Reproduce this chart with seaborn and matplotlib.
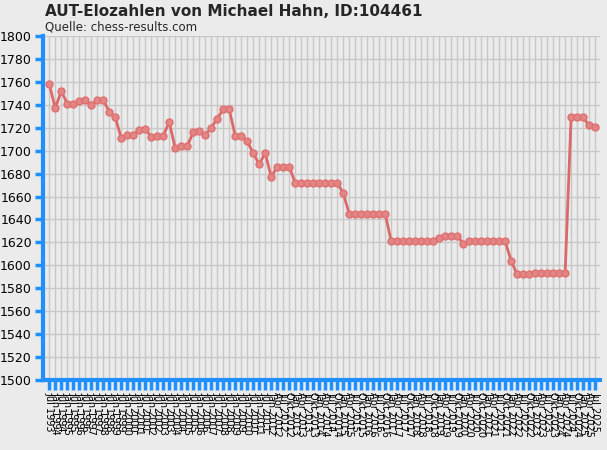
import matplotlib
matplotlib.use("Agg")
import matplotlib.pyplot as plt
import seaborn as sns
import pandas as pd

title = "AUT-Elozahlen von Michael Hahn, ID:104461"
subtitle = "Quelle: chess-results.com"

dates = [
    "Jul 1993", "Jan 1994", "Jul 1994", "Jan 1995", "Jul 1995", "Jan 1996", "Jul 1996",
    "Jan 1997", "Jul 1997", "Jan 1998", "Jul 1998", "Jan 1999", "Jul 1999", "Jan 2000",
    "Jul 2000", "Jan 2001", "Jul 2001", "Jan 2002", "Jul 2002", "Jan 2003", "Jul 2003",
    "Jan 2004", "Jul 2004", "Jan 2005", "Jul 2005", "Jan 2006", "Jul 2006", "Jan 2007",
    "Jul 2007", "Jan 2008", "Jul 2008", "Jan 2009", "Jul 2009", "Jan 2010", "Jul 2010",
    "Jan 2011", "Jul 2011",
    "Jan 2012", "Apr 2012", "Jul 2012", "Okt 2012",
    "Jan 2013", "Apr 2013", "Jul 2013", "Okt 2013",
    "Jan 2014", "Apr 2014", "Jul 2014", "Okt 2014",
    "Jan 2015", "Apr 2015", "Jul 2015", "Okt 2015",
    "Jan 2016", "Apr 2016", "Jul 2016", "Okt 2016",
    "Jan 2017", "Apr 2017", "Jul 2017", "Okt 2017",
    "Jan 2018", "Apr 2018", "Jul 2018", "Okt 2018",
    "Jan 2019", "Apr 2019", "Jul 2019", "Okt 2019",
    "Jan 2020", "Apr 2020", "Jul 2020", "Okt 2020",
    "Jan 2021", "Apr 2021", "Jul 2021", "Okt 2021",
    "Jan 2022", "Apr 2022", "Jul 2022", "Okt 2022",
    "Jan 2023", "Apr 2023", "Jul 2023", "Okt 2023",
    "Jan 2024", "Apr 2024", "Jul 2024", "Okt 2024",
    "Jan 2025", "Apr 2025", "Jul 2025",
]

elo = [
    1758, 1737, 1752, 1741, 1741, 1743, 1744, 1740, 1744, 1744,
    1734, 1729, 1711, 1714, 1714, 1718, 1719, 1712, 1713, 1713,
    1725, 1702, 1704, 1704, 1716, 1717, 1714, 1720, 1728, 1736,
    1736, 1713, 1713, 1708, 1698, 1688, 1698, 1677, 1686, 1686,
    1686, 1672, 1672, 1672, 1672, 1672, 1672, 1672, 1672, 1663,
    1645, 1645, 1645, 1645, 1645, 1645, 1645, 1621, 1621, 1621,
    1621, 1621, 1621, 1621, 1621, 1624, 1626, 1626, 1626, 1619,
    1621, 1621, 1621, 1621, 1621, 1621, 1621, 1604, 1592, 1592,
    1592, 1593, 1593, 1593, 1593, 1593, 1593, 1729, 1729, 1729,
    1722, 1721,
]

y_ticks = list(range(1500, 1801, 20))

df = pd.DataFrame({"idx": range(len(elo)), "elo": elo, "date": dates})

sns.set_theme(style="whitegrid")
bg = "#EBEBEB"
blue = "#1E90FF"
plt.rcParams["font.family"] = ["DejaVu Sans"]

fig = plt.figure(figsize=(6.07, 4.5), dpi=100, facecolor=bg)
ax = fig.add_axes([0.0708, 0.1556, 0.918, 0.7644])
ax.set_facecolor(bg)
ax.set_axisbelow(True)

sns.lineplot(data=df, x="idx", y="elo", ax=ax, color="#DC6868", linewidth=2,
             marker="o", markersize=5, markeredgewidth=1.0,
             markerfacecolor="#E38585", markeredgecolor="#DE7070")

ax.set_xlim(-1.05, len(elo) - 1 + 0.85)
ax.set_ylim(1500, 1800)
ax.set_xticks(df["idx"])
ax.set_xticklabels(df["date"], rotation=-90, fontsize=7, ha="center", va="top")
ax.set_yticks(y_ticks)
ax.set_yticklabels([str(v) for v in y_ticks], fontsize=9)
ax.set_xlabel("")
ax.set_ylabel("")

ax.grid(True, color="#C8C8C8", linewidth=1)
for s in ["top", "right"]:
    ax.spines[s].set_visible(False)
for s in ["left", "bottom"]:
    ax.spines[s].set_visible(True)
    ax.spines[s].set_color(blue)
    ax.spines[s].set_linewidth(3)
ax.tick_params(axis="x", bottom=True, colors=blue, length=7, width=2.5,
               direction="out", pad=2, labelcolor="black")
ax.tick_params(axis="y", left=True, colors=blue, length=6, width=2.5,
               direction="out", pad=2, labelcolor="black")

fig.text(45 / 607, 1 - 12 / 450, title, fontsize=11, fontweight="bold",
         va="center", ha="left")
fig.text(45 / 607, 1 - 27 / 450, subtitle, fontsize=8.5, va="center", ha="left")

fig.savefig("out.png", dpi=100, facecolor=bg)
